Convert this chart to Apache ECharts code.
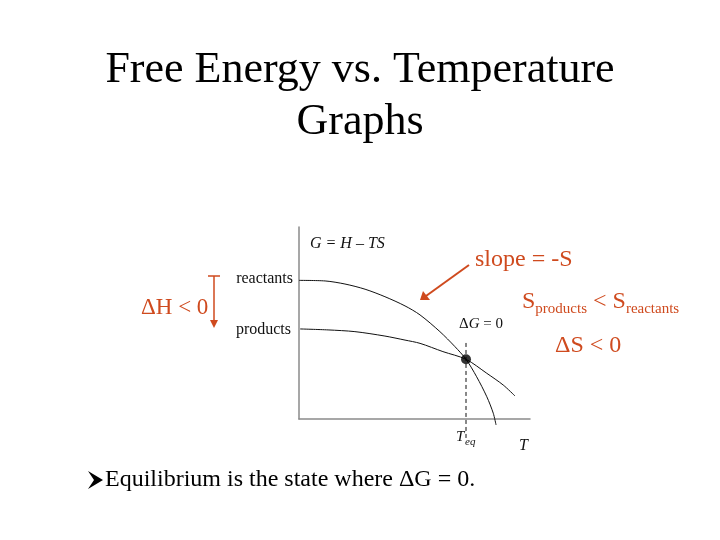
<!DOCTYPE html>
<html><head><meta charset="utf-8">
<script src="https://cdn.jsdelivr.net/npm/echarts@6/dist/echarts.min.js"></script>
<style>html,body{margin:0;padding:0;background:#fff}#c{width:720px;height:540px}</style>
</head><body><div id="c"></div>
<script>
// Data
const reactantsCurve = [[0,72.2],[11.3,71.9],[19.9,70.3],[28.6,67.6],[37.2,63.7],[45.9,58.9],[52.4,54.2],[61.0,45.5],[67.5,37.7],[72.3,31.1],[76.9,22.0],[81.3,11.6],[84.1,3.0],[85.3,-3.1]];
const productsCurve = [[0.5,46.9],[12.6,46.4],[24.2,45.5],[37.2,43.2],[45.9,41.1],[52.4,39.4],[62.3,35.1],[72.3,31.1],[81.3,23.8],[88.4,17.7],[93.5,12.0]];
const equilibriumPoint = [[72.3,31.1]];
const teqLine = [[72.3,39.6],[72.3,-10]];
const titleLines = ['Free Energy vs. Temperature','Graphs'];

const serif = '"Liberation Serif","Times New Roman",serif';
const orange = '#cf4a1e';
const chart = echarts.init(document.getElementById('c'));

function txt(x, y, text, size, color, align, extra) {
  return Object.assign({type:'text', x:x, y:y, style:{text:text, font:size+'px '+serif, fill:color, align:align||'left', verticalAlign:'middle'}}, extra||{});
}

chart.setOption({
  animation:false,
  backgroundColor:'#fff',
  grid:{left:299, right:190, top:227, bottom:121},
  xAxis:{type:'value', min:0, max:100, axisLine:{onZero:true, lineStyle:{color:'#8a8a8a', width:1.5}}, axisTick:{show:false}, axisLabel:{show:false}, splitLine:{show:false}},
  yAxis:{type:'value', min:0, max:100, axisLine:{show:true, lineStyle:{color:'#8a8a8a', width:1.5}}, axisTick:{show:false}, axisLabel:{show:false}, splitLine:{show:false}},
  series:[
    {type:'line', data:reactantsCurve, smooth:0.3, clip:false, symbol:'none', lineStyle:{color:'#111', width:1}},
    {type:'line', data:productsCurve, smooth:0.3, clip:false, symbol:'none', lineStyle:{color:'#111', width:1}},
    {type:'line', data:teqLine, clip:false, symbol:'none', lineStyle:{color:'#111', width:1, type:[4,3]}},
    {type:'scatter', data:equilibriumPoint, symbolSize:10, itemStyle:{color:'#000'}, z:5}
  ],
  graphic:[
    txt(360, 70, titleLines[0], 44, '#000', 'center'),
    txt(360, 122, titleLines[1], 44, '#000', 'center'),
    {type:'text', x:310, y:244, style:{text:'G = H – TS', font:'italic 16px '+serif, fill:'#111', verticalAlign:'middle'}},
    txt(293, 279, 'reactants', 16, '#111', 'right'),
    txt(291, 330, 'products', 16, '#111', 'right'),
    {type:'text', x:459, y:324, style:{text:'{u|Δ}{i|G}{u| = 0}', fill:'#111', verticalAlign:'middle', rich:{u:{font:'15px '+serif, fill:'#111'}, i:{font:'italic 15px '+serif, fill:'#111'}}}},
    {type:'text', x:456, y:437, style:{text:'T', font:'italic 15px '+serif, fill:'#111', verticalAlign:'middle'}},
    {type:'text', x:465, y:442, style:{text:'eq', font:'italic 11px '+serif, fill:'#111', verticalAlign:'middle'}},
    {type:'text', x:519, y:446, style:{text:'T', font:'italic 16px '+serif, fill:'#111', verticalAlign:'middle'}},
    // ΔH arrow
    txt(141, 308, 'ΔH < 0', 23, orange, 'left'),
    {type:'line', shape:{x1:214, y1:276, x2:214, y2:322}, style:{stroke:orange, lineWidth:1.5}},
    {type:'line', shape:{x1:208, y1:276, x2:220, y2:276}, style:{stroke:orange, lineWidth:1.5}},
    {type:'polygon', shape:{points:[[210,320],[218,320],[214,328]]}, style:{fill:orange}},
    // slope arrow
    txt(475, 260, 'slope = -S', 24, orange, 'left'),
    {type:'line', shape:{x1:469, y1:265, x2:426, y2:296}, style:{stroke:orange, lineWidth:2}},
    {type:'polygon', shape:{points:[[420,300],[423,291],[430,300]]}, style:{fill:orange}},
    {type:'text', x:522, y:302, style:{text:'{b|S}{s|products}{b| < S}{s|reactants}', fill:orange, verticalAlign:'middle', rich:{b:{font:'24px '+serif, fill:orange}, s:{font:'15px '+serif, fill:orange, padding:[14,0,0,0]}}}},
    txt(555, 346, 'ΔS < 0', 24, orange, 'left'),
    // bullet
    {type:'polygon', shape:{points:[[88,471],[103,480],[88,489],[94,480]]}, style:{fill:'#000'}},
    txt(105, 480, 'Equilibrium is the state where ΔG = 0.', 24, '#000', 'left')
  ]
});
</script></body></html>
